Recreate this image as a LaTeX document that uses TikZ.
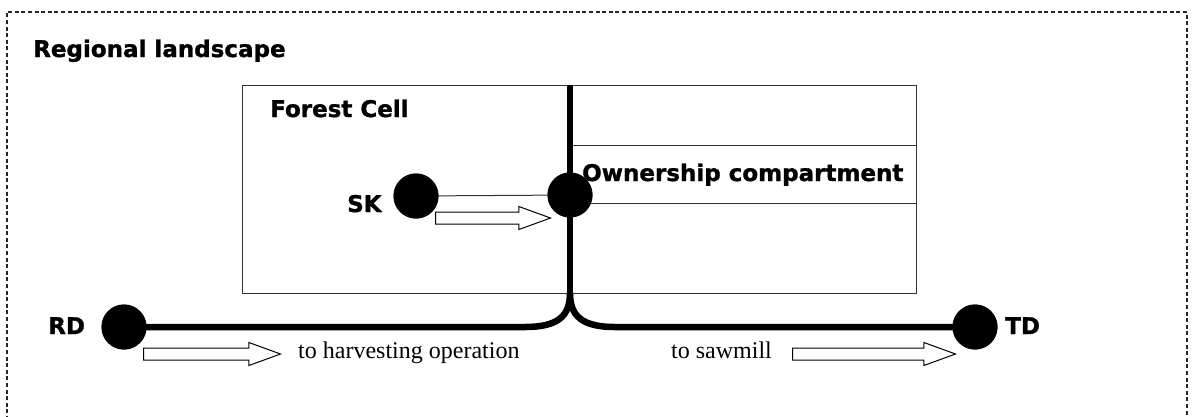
\documentclass[tikz,border=0pt]{standalone}
\usepackage{fontspec}
\setmainfont{Liberation Serif}
\newfontfamily\heavy{DejaVu Sans}[BoldFeatures={FakeBold=1.3}]
\usetikzlibrary{shapes.arrows}

\tikzset{
  frameline/.style={line width=1.2pt, dash pattern=on 4pt off 2.6pt, black!85},
  cellbox/.style={draw=black!80, line width=1pt, inner sep=0pt},
  stripline/.style={draw=black!80, line width=1pt},
  road/.style={line width=6.5pt, black},
  feeder/.style={line width=1pt, black!80},
  station/.style={circle, fill=black, inner sep=0pt, minimum size=45pt},
  heading/.style={font=\heavy\bfseries\fontsize{23}{27}\selectfont, inner sep=0pt},
  caption/.style={font=\fontsize{24}{28}\selectfont, inner sep=0pt},
  flowarrow/.style={single arrow, draw=black, fill=white, line width=1pt,
    inner sep=0pt, inner ysep=5.5pt, single arrow head extend=5.5pt,
    single arrow tip angle=40, anchor=west}
}

\begin{document}
\begin{tikzpicture}[x=1pt, y=-1pt]
\useasboundingbox (0,0) rectangle (1193,416);

% regional frame (open at the foot)
\draw[frameline] (7,420) -- (7,12) -- (1187,12) -- (1187,420);
\node[heading, anchor=base west] (region) at (33,57) {Regional landscape};

% forest cell and ownership compartment strip
\node[cellbox, draw, minimum width=674pt, minimum height=208pt] (cell) at (579,189) {};
\node[heading, anchor=base west] (celltitle) at (270,117) {Forest Cell};
\coordinate (stripTL) at (570,145);
\coordinate (stripTR) at (916,145);
\coordinate (stripBL) at (570,203);
\coordinate (stripBR) at (916,203);
\draw[stripline] (stripTL) -- (stripTR);
\draw[stripline] (stripBL) -- (stripBR);
\node[heading, anchor=base west] (owner) at (582,181) {Ownership compartment};

% stations
\node[station] (sk) at (416,196) {};
\node[station] (hub) at (570,195) {};
\node[station] (rd) at (124,327) {};
\node[station] (td) at (975,327) {};

% road network
\coordinate (top) at (570,85);
\coordinate (fork) at (570,293);
\coordinate (bendL) at (525,327);
\coordinate (bendR) at (615,327);
\draw[road] (top) -- (fork);
\draw[road] (rd.center) -- (bendL) .. controls (558,327) and (570,316) .. (fork);
\draw[road] (td.center) -- (bendR) .. controls (582,327) and (570,316) .. (fork);
\draw[feeder] (sk) -- (hub);

% redraw stations over the lines
\node[station] at (sk) {};
\node[station] at (hub) {};
\node[station] at (rd) {};
\node[station] at (td) {};

% station labels
\node[heading, anchor=base west] (sklabel) at (347,212) {SK};
\node[heading, anchor=base west] (rdlabel) at (48,334) {RD};
\node[heading, anchor=base west] (tdlabel) at (1005,334) {TD};

% flow directions
\node[flowarrow, minimum height=115pt] (skflow) at (435,218) {};
\node[flowarrow, minimum height=137pt] (inflow) at (143,354) {};
\node[flowarrow, minimum height=163pt] (outflow) at (792,354) {};
\node[caption, anchor=base west] (harvest) at (298,358) {to harvesting operation};
\node[caption, anchor=base west] (sawmill) at (671,358) {to sawmill};
\end{tikzpicture}
\end{document}
